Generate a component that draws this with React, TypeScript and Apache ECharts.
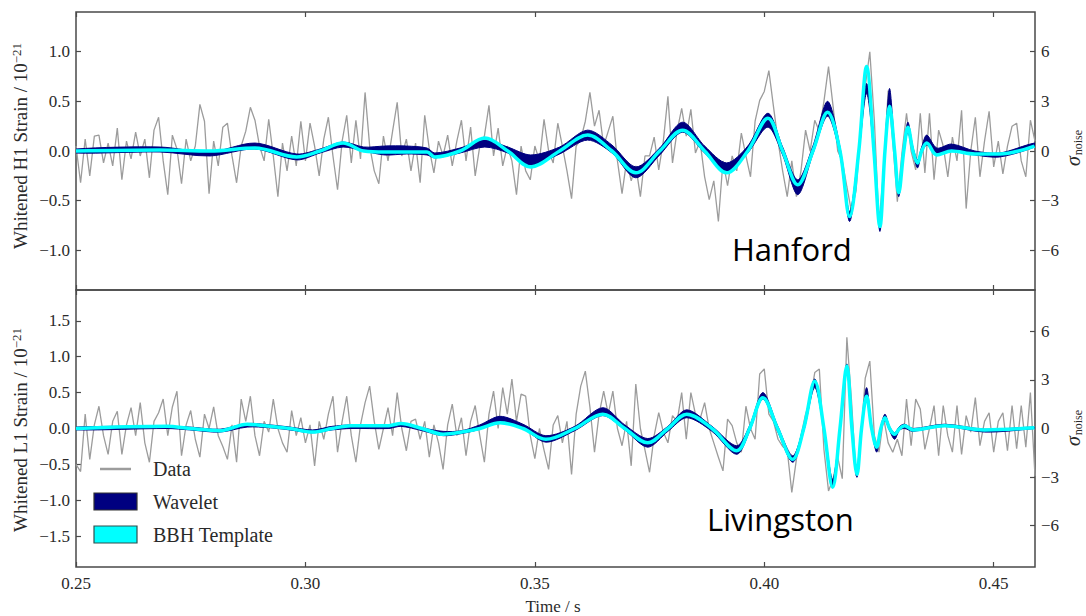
import React, { useEffect, useRef } from "react";
import * as echarts from "echarts";

// ---------- axes / ticks ----------
const T0 = 0.25;
const DT = 0.001;
const X_MIN = 0.25;
const X_MAX = 0.459;
const xTicks = [0.25, 0.3, 0.35, 0.4, 0.45];
const h1StrainTicks = [-1.0, -0.5, 0, 0.5, 1.0];
const l1StrainTicks = [-1.5, -1.0, -0.5, 0, 0.5, 1.0, 1.5];
const sigmaTicks = [-6, -3, 0, 3, 6];

// ---------- Hanford (H1) ----------
const h1Data = [
  0.05, -0.32, 0.12, -0.25, 0.15, 0.16, -0.12, 0.08, -0.15, 0.23,
  -0.29, 0.1, -0.08, 0.19, -0.05, 0.12, -0.27, 0.21, 0.34, -0.1,
  -0.44, 0.16, 0.02, -0.33, 0.12, -0.1, 0.05, 0.47, 0.3, -0.43,
  0.1, -0.15, 0.24, 0.28, -0.05, -0.32, 0.05, 0.2, 0.44, 0.31,
  0.05, -0.1, 0.32, -0.05, -0.46, 0.08, -0.2, 0.15, -0.15, 0.3,
  -0.1, 0.28, 0.05, -0.25, 0.12, 0.34, -0.05, -0.39, 0.1, 0.36,
  -0.12, 0.31, -0.08, 0.59, 0.05, -0.2, -0.33, 0.15, -0.1, 0.2,
  0.49, -0.05, 0.12, -0.2, 0.08, -0.32, 0.36, 0.02, -0.22, 0.1,
  -0.05, 0.16, -0.15, 0.1, 0.31, -0.1, 0.24, -0.25, 0.05, 0.15,
  0.46, -0.05, 0.23, -0.15, 0.05, -0.1, -0.44, 0.05, -0.2, -0.29,
  0.05, -0.1, 0.32, 0.0, -0.12, 0.28, 0.05, -0.2, -0.48, 0.05,
  0.12, 0.3, 0.59, 0.25, 0.41, 0.05, 0.2, 0.35, -0.1, -0.43,
  -0.1, -0.3, -0.15, -0.46, -0.05, -0.05, 0.14, -0.19, 0.1, 0.55,
  -0.12, 0.2, 0.43, 0.15, 0.42, -0.02, 0.1, -0.26, -0.49, -0.3,
  -0.71, -0.1, -0.35, -0.05, -0.2, 0.18, -0.05, -0.26, 0.3, 0.51,
  0.6, 0.81, 0.45, 0.1, -0.2, -0.46, -0.1, -0.46, -0.2, 0.21,
  0.0, 0.31, 0.2, 0.5, 0.85, 0.45, 0.0, -0.1, -0.36, -0.61,
  -0.4, 0.2, 0.65, 1.0, 0.3, -0.73, -0.2, 0.61, 0.1, -0.51,
  -0.02, 0.38, 0.0, -0.19, 0.38, -0.22, 0.38, -0.29, 0.21, 0.05,
  -0.26, 0.14, -0.1, 0.41, -0.58, 0.0, 0.34, -0.26, 0.1, 0.4,
  -0.16, 0.1, -0.23, 0.05, 0.25, 0.28, -0.1, -0.26, 0.31, 0.1,
];

const h1T = [
  0.25, 0.2683, 0.2792, 0.289, 0.2981, 0.3032, 0.3082, 0.3127, 0.3173, 0.322,
  0.3265, 0.3282, 0.3337, 0.3391, 0.3441, 0.3491, 0.3554, 0.3615, 0.3668, 0.372,
  0.3772, 0.3822, 0.387, 0.3918, 0.3964, 0.4008, 0.404, 0.4073, 0.4106, 0.4138,
  0.4165, 0.4186, 0.4206, 0.4223, 0.4239, 0.4252, 0.4263, 0.4273, 0.4284, 0.4293,
  0.4304, 0.4313, 0.4324, 0.4334, 0.4343, 0.4354, 0.4376, 0.4408, 0.4459, 0.4513,
  0.4589,
];
const h1Template = [
  0.0, 0.01, 0.0, 0.03, -0.06, 0.0, 0.08, 0.0, -0.01, -0.01,
  -0.01, -0.06, 0.0, 0.13, 0.0, -0.16, 0.0, 0.16, 0.0, -0.22,
  0.0, 0.21, 0.0, -0.22, 0.0, 0.33, 0.0, -0.34, 0.0, 0.39,
  0.0, -0.66, 0.0, 0.85, 0.0, -0.76, 0.0, 0.45, 0.0, -0.42,
  0.0, 0.24, 0.0, -0.12, 0.0, 0.08, -0.04, 0.0, -0.03, -0.03,
  0.05,
];
const h1WaveletLo = [
  -0.02, -0.01, -0.05, 0.02, -0.09, -0.02, 0.04, 0.0, -0.04, -0.03,
  -0.04, -0.07, -0.02, 0.04, -0.02, -0.14, -0.03, 0.11, -0.02, -0.27,
  -0.04, 0.19, -0.02, -0.22, -0.02, 0.24, -0.04, -0.44, -0.03, 0.35,
  -0.04, -0.71, -0.03, 0.58, -0.03, -0.81, -0.03, 0.45, -0.03, -0.46,
  -0.04, 0.19, -0.02, -0.17, -0.02, 0.06, -0.02, 0.0, -0.04, -0.06,
  0.04,
];
const h1WaveletHi = [
  0.02, 0.04, -0.01, 0.08, -0.03, 0.02, 0.09, 0.04, 0.05, 0.05,
  0.03, -0.02, 0.03, 0.11, 0.04, -0.04, 0.04, 0.21, 0.06, -0.16,
  0.03, 0.29, 0.05, -0.12, 0.05, 0.38, 0.04, -0.29, 0.05, 0.5,
  0.04, -0.61, 0.03, 0.68, 0.03, -0.69, 0.05, 0.63, 0.05, -0.36,
  0.03, 0.29, 0.04, -0.09, 0.04, 0.16, 0.03, 0.07, 0.0, -0.02,
  0.08,
];

// ---------- Livingston (L1) ----------
const l1Data = [
  -0.5, -0.6, 0.2, -0.43, 0.05, 0.31, -0.1, -0.36, 0.1, 0.24,
  -0.36, 0.05, 0.29, -0.1, 0.36, -0.2, -0.47, 0.1, 0.22, 0.41,
  -0.1, 0.3, 0.52, -0.38, 0.05, 0.25, -0.15, -0.4, 0.2, 0.0,
  0.3, -0.1, -0.25, -0.43, 0.05, -0.47, 0.41, 0.1, 0.45, -0.1,
  -0.38, 0.1, -0.05, 0.41, 0.0, -0.2, -0.33, 0.25, -0.1, 0.15,
  -0.2, 0.05, -0.52, 0.1, -0.15, 0.2, 0.45, -0.33, 0.1, 0.45,
  -0.1, -0.47, 0.05, 0.36, 0.59, 0.1, -0.29, 0.0, 0.29, -0.1,
  0.5, 0.0, -0.31, 0.1, 0.13, -0.15, 0.1, -0.4, 0.05, -0.2,
  -0.57, 0.05, 0.34, -0.1, 0.15, -0.38, 0.1, 0.32, -0.1, -0.47,
  0.2, 0.52, 0.0, 0.57, 0.2, 0.69, 0.1, 0.48, 0.45, -0.1,
  -0.42, 0.0, -0.3, -0.57, 0.05, 0.18, -0.2, 0.1, -0.64, 0.2,
  0.59, 0.8, 0.3, -0.33, 0.2, 0.52, 0.2, 0.52, 0.0, -0.24,
  0.1, -0.52, 0.62, 0.0, -0.3, -0.61, -0.1, 0.22, -0.05, -0.2,
  0.18, 0.1, 0.5, -0.15, 0.5, 0.2, 0.13, 0.36, 0.0, -0.2,
  -0.4, -0.59, 0.13, 0.04, -0.2, -0.33, 0.31, 0.0, -0.15, 0.76,
  0.83, 0.2, 0.1, -0.15, -0.25, -0.3, -0.89, -0.43, -0.1, 0.2,
  0.4, 0.78, 0.83, -0.29, -0.87, -0.7, -0.4, -0.7, 1.27, 0.4,
  -0.66, -0.2, 0.7, 0.94, -0.1, -0.33, 0.15, -0.2, -0.33, -0.15,
  -0.38, 0.41, -0.24, 0.41, 0.27, -0.29, 0.0, 0.32, -0.38, 0.32,
  -0.1, -0.33, 0.32, -0.36, 0.18, -0.05, 0.43, -0.24, 0.1, 0.22,
  -0.33, 0.1, 0.22, -0.31, 0.32, -0.28, 0.32, -0.26, 0.5, -0.66,
];

const l1T = [
  0.25, 0.2698, 0.2748, 0.2814, 0.2873, 0.2923, 0.2966, 0.3016, 0.3058, 0.3099,
  0.3182, 0.3208, 0.3254, 0.33, 0.3341, 0.338, 0.3424, 0.3474, 0.3524, 0.3587,
  0.3648, 0.3696, 0.3746, 0.379, 0.3831, 0.3886, 0.394, 0.3968, 0.3997, 0.4029,
  0.4062, 0.4086, 0.411, 0.413, 0.4149, 0.4165, 0.418, 0.4191, 0.4202, 0.4212,
  0.4223, 0.4234, 0.4245, 0.4254, 0.4263, 0.4273, 0.4284, 0.4295, 0.4306, 0.4324,
  0.4393, 0.448, 0.4589,
];
const l1Template = [
  0.0, 0.03, 0.0, -0.03, 0.06, 0.03, 0.0, -0.05, 0.0, 0.04,
  0.04, 0.07, 0.0, -0.08, -0.05, 0.0, 0.08, 0.0, -0.15, 0.0,
  0.2, 0.0, -0.2, 0.0, 0.2, 0.0, -0.31, 0.0, 0.43, 0.0,
  -0.43, 0.0, 0.66, 0.0, -0.82, 0.0, 0.87, 0.0, -0.64, 0.0,
  0.45, 0.0, -0.26, 0.0, 0.15, 0.0, -0.08, 0.0, 0.04, -0.02,
  0.04, -0.02, 0.01,
];
const l1WaveletLo = [
  -0.02, 0.0, -0.02, -0.05, 0.02, 0.01, -0.02, -0.06, -0.02, 0.0,
  0.0, 0.03, -0.03, -0.1, -0.07, -0.01, 0.1, 0.0, -0.19, -0.03,
  0.18, -0.02, -0.26, -0.04, 0.15, -0.04, -0.36, -0.04, 0.41, -0.04,
  -0.47, -0.04, 0.57, -0.03, -0.8, -0.03, 0.8, -0.03, -0.68, -0.04,
  0.41, -0.03, -0.33, -0.03, 0.11, -0.03, -0.15, -0.02, 0.0, -0.04,
  0.03, -0.05, 0.0,
];
const l1WaveletHi = [
  0.02, 0.03, 0.02, -0.01, 0.07, 0.05, 0.02, -0.02, 0.03, 0.05,
  0.05, 0.07, 0.01, -0.04, -0.03, 0.05, 0.17, 0.06, -0.1, 0.03,
  0.29, 0.05, -0.14, 0.03, 0.26, 0.03, -0.24, 0.04, 0.5, 0.04,
  -0.38, 0.04, 0.69, 0.03, -0.71, 0.03, 0.9, 0.03, -0.61, 0.04,
  0.57, 0.04, -0.24, 0.03, 0.2, 0.03, -0.06, 0.03, 0.06, 0.0,
  0.06, -0.01, 0.02,
];

// ---------- styling constants ----------
const SERIF = '"Liberation Serif", "Times New Roman", serif';
const TXT = "#2a2a2a";
const FRAME = "#4a4a4a";
const GRAY = "#9c9c9c";
const NAVY = "#000080";
const CYAN = "#00ffff";

const minus = (s: string) => s.replace("-", "\u2212");
const fmtStrain = (v: number) => minus(v.toFixed(1));
const fmtSigma = (v: number) => minus(v.toFixed(0));

function xAxisDef(gridIndex: number, position: string, showLabels: boolean) {
  return {
    type: "value",
    gridIndex,
    position,
    min: X_MIN,
    max: X_MAX,
    axisLine: { show: false, onZero: false },
    splitLine: { show: false },
    axisTick: {
      show: true,
      inside: true,
      length: 5,
      customValues: xTicks,
      lineStyle: { color: FRAME, width: 1.2 },
    },
    axisLabel: {
      show: showLabels,
      customValues: xTicks,
      formatter: (v: number) => v.toFixed(2),
      margin: 8,
      fontFamily: SERIF,
      fontSize: 17,
      color: TXT,
    },
  };
}

function yAxisDef(
  gridIndex: number,
  position: string,
  lim: number,
  ticks: number[],
  fmt: (v: number) => string
) {
  return {
    type: "value",
    gridIndex,
    position,
    min: -lim,
    max: lim,
    axisLine: { show: false, onZero: false },
    splitLine: { show: false },
    axisTick: {
      show: true,
      inside: true,
      length: 5,
      customValues: ticks,
      lineStyle: { color: FRAME, width: 1.2 },
    },
    axisLabel: {
      customValues: ticks,
      formatter: fmt,
      margin: 6,
      fontFamily: SERIF,
      fontSize: 17,
      color: TXT,
    },
  };
}

function panelSeries(
  gi: number,
  data: number[],
  t: number[],
  tpl: number[],
  lo: number[],
  hi: number[]
) {
  const xAxisIndex = gi;
  const yAxisIndex = gi * 2;
  return [
    {
      type: "line",
      name: "Data",
      xAxisIndex,
      yAxisIndex,
      data: data.map((v, i) => [Math.round((T0 + i * DT) * 10000) / 10000, v]),
      symbol: "none",
      lineStyle: { color: GRAY, width: 1.3 },
      z: 2,
      silent: true,
    },
    {
      type: "custom",
      name: "Wavelet",
      xAxisIndex,
      yAxisIndex,
      data: t.map((x, i) => [x, lo[i], hi[i]]),
      encode: { x: 0, y: [1, 2] },
      clip: true,
      silent: true,
      z: 3,
      renderItem: (params: any, api: any) => {
        if (params.dataIndex !== 0) return null;
        const upper = t.map((x, i) => api.coord([x, hi[i]]));
        const lower = t.map((x, i) => api.coord([x, lo[i]])).reverse();
        const cs = params.coordSys;
        return {
          type: "polygon",
          shape: { points: upper.concat(lower), smooth: 0.3 },
          style: { fill: NAVY, stroke: NAVY, lineWidth: 1 },
          clipPath: {
            type: "rect",
            shape: { x: cs.x, y: cs.y, width: cs.width, height: cs.height },
          },
        };
      },
    },
    {
      type: "line",
      name: "BBH Template",
      xAxisIndex,
      yAxisIndex,
      data: t.map((x, i) => [x, tpl[i]]),
      smooth: 0.35,
      symbol: "none",
      lineStyle: { color: CYAN, width: 3.5 },
      z: 4,
      silent: true,
    },
  ];
}

function rotatedLabel(x: number, y: number, text: string, rich: any, fontSize: number) {
  return {
    type: "text",
    x,
    y,
    rotation: Math.PI / 2,
    style: {
      text,
      rich,
      fontFamily: SERIF,
      fontSize,
      fill: TXT,
      align: "center",
      verticalAlign: "middle",
      textAlign: "center",
      textVerticalAlign: "middle",
    },
  };
}

const strainRich = {
  sup: { fontSize: 13, fontFamily: SERIF, fill: TXT, verticalAlign: "top", padding: [0, 0, 8, 0] },
};
const sigmaRich = {
  s: { fontSize: 20, fontFamily: SERIF, fill: TXT, fontStyle: "italic" },
  n: { fontSize: 12, fontFamily: SERIF, fill: TXT, padding: [9, 0, 0, 1] },
};

function plainText(x: number, y: number, text: string, fontSize: number, family: string, align: string, color: string) {
  return {
    type: "text",
    x,
    y,
    style: {
      text,
      fontFamily: family,
      fontSize,
      fill: color,
      align,
      verticalAlign: "middle",
      textAlign: align,
      textVerticalAlign: "middle",
    },
  };
}

export default function App() {
  const ref = useRef<HTMLDivElement>(null);

  useEffect(() => {
    document.body.style.margin = "0";
    if (!ref.current) return;
    const chart = echarts.init(ref.current, undefined, { renderer: "svg" });

    const SANS = '"Open Sans", "Noto Sans", sans-serif';
    const option: any = {
      animation: false,
      backgroundColor: "#ffffff",
      grid: [
        {
          left: 76,
          top: 12,
          width: 959,
          height: 278,
          show: true,
          borderColor: FRAME,
          borderWidth: 1.5,
          backgroundColor: "transparent",
        },
        {
          left: 76,
          top: 290,
          width: 959,
          height: 277,
          show: true,
          borderColor: FRAME,
          borderWidth: 1.5,
          backgroundColor: "transparent",
        },
      ],
      xAxis: [
        xAxisDef(0, "bottom", false),
        xAxisDef(1, "bottom", true),
        xAxisDef(0, "top", false),
        xAxisDef(1, "top", false),
      ],
      yAxis: [
        yAxisDef(0, "left", 1.4, h1StrainTicks, fmtStrain),
        yAxisDef(0, "right", 8.4, sigmaTicks, fmtSigma),
        yAxisDef(1, "left", 1.93, l1StrainTicks, fmtStrain),
        yAxisDef(1, "right", 8.55, sigmaTicks, fmtSigma),
      ],
      series: [
        ...panelSeries(0, h1Data, h1T, h1Template, h1WaveletLo, h1WaveletHi),
        ...panelSeries(1, l1Data, l1T, l1Template, l1WaveletLo, l1WaveletHi),
      ],
      graphic: [
        rotatedLabel(20, 146, "Whitened H1 Strain / 10{sup|\u221221}", strainRich, 19),
        rotatedLabel(20, 430, "Whitened L1 Strain / 10{sup|\u221221}", strainRich, 19),
        rotatedLabel(1073, 148, "{s|\u03c3}{n|noise}", sigmaRich, 20),
        rotatedLabel(1073, 428, "{s|\u03c3}{n|noise}", sigmaRich, 20),
        plainText(553, 606, "Time / s", 17, SERIF, "center", TXT),
        plainText(732, 249, "Hanford", 31, SANS, "left", "#000000"),
        plainText(707, 519, "Livingston", 31, SANS, "left", "#000000"),
        // legend
        {
          type: "line",
          shape: { x1: 100, y1: 469, x2: 131, y2: 469 },
          style: { stroke: GRAY, lineWidth: 2.5 },
        },
        plainText(153, 469, "Data", 20, SERIF, "left", TXT),
        {
          type: "rect",
          shape: { x: 94, y: 493, width: 43, height: 17 },
          style: { fill: NAVY, stroke: "#333333", lineWidth: 1.2 },
        },
        plainText(153, 502, "Wavelet", 20, SERIF, "left", TXT),
        {
          type: "rect",
          shape: { x: 94, y: 526, width: 43, height: 17 },
          style: { fill: CYAN, stroke: "#2f4f4f", lineWidth: 1.2 },
        },
        plainText(153, 535, "BBH Template", 20, SERIF, "left", TXT),
      ],
    };

    chart.setOption(option);
    return () => {
      chart.dispose();
    };
  }, []);

  return <div ref={ref} style={{ width: 1086, height: 616 }} />;
}
